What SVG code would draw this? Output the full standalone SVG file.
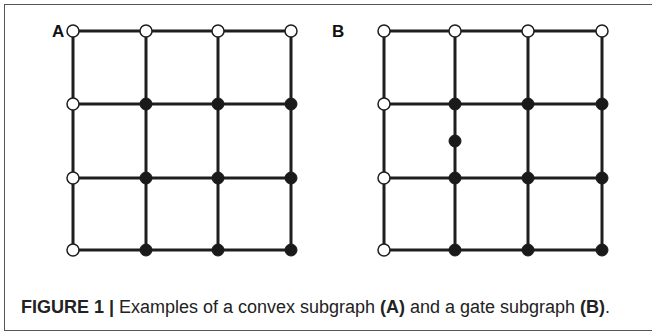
<svg xmlns="http://www.w3.org/2000/svg" width="652" height="332" viewBox="0 0 652 332">
<style>
.e{stroke:#1e1e1e;stroke-width:3;stroke-linecap:round}
.w{fill:#fff;stroke:#1e1e1e;stroke-width:1.5}
.b{fill:#1a1a1a;stroke:#1a1a1a;stroke-width:1}
.lbl{font-family:"Liberation Sans",Arial,sans-serif;font-weight:bold;font-size:17px;fill:#111}
.cap{font-family:"Liberation Sans",Arial,sans-serif;font-size:18px;fill:#222}
.bold{font-weight:bold}
</style>
<rect x="0" y="0" width="652" height="332" fill="#fff"/>
<rect x="4.5" y="4.5" width="660" height="326" fill="none" stroke="#555" stroke-width="1"/>
<text class="lbl" x="52" y="37">A</text>
<text class="lbl" x="332" y="37">B</text>
<g id="connectors">
<line class="e" x1="73" y1="31" x2="291" y2="31"/>
<line class="e" x1="73" y1="104" x2="291" y2="104"/>
<line class="e" x1="73" y1="178" x2="291" y2="178"/>
<line class="e" x1="73" y1="250" x2="291" y2="250"/>
<line class="e" x1="73" y1="31" x2="73" y2="250"/>
<line class="e" x1="146" y1="31" x2="146" y2="250"/>
<line class="e" x1="218" y1="31" x2="218" y2="250"/>
<line class="e" x1="291" y1="31" x2="291" y2="250"/>
<line class="e" x1="384" y1="31" x2="602" y2="31"/>
<line class="e" x1="384" y1="104" x2="602" y2="104"/>
<line class="e" x1="384" y1="178" x2="602" y2="178"/>
<line class="e" x1="384" y1="250" x2="602" y2="250"/>
<line class="e" x1="384" y1="31" x2="384" y2="250"/>
<line class="e" x1="455" y1="31" x2="455" y2="250"/>
<line class="e" x1="528" y1="31" x2="528" y2="250"/>
<line class="e" x1="602" y1="31" x2="602" y2="250"/>
</g>
<g id="nodesA">
<g id="a00"><circle class="w" cx="73" cy="31" r="6"/></g>
<g id="a01"><circle class="w" cx="146" cy="31" r="6"/></g>
<g id="a02"><circle class="w" cx="218" cy="31" r="6"/></g>
<g id="a03"><circle class="w" cx="291" cy="31" r="6"/></g>
<g id="a10"><circle class="w" cx="73" cy="104" r="6"/></g>
<g id="a11"><circle class="b" cx="146" cy="104" r="6"/></g>
<g id="a12"><circle class="b" cx="218" cy="104" r="6"/></g>
<g id="a13"><circle class="b" cx="291" cy="104" r="6"/></g>
<g id="a20"><circle class="w" cx="73" cy="178" r="6"/></g>
<g id="a21"><circle class="b" cx="146" cy="178" r="6"/></g>
<g id="a22"><circle class="b" cx="218" cy="178" r="6"/></g>
<g id="a23"><circle class="b" cx="291" cy="178" r="6"/></g>
<g id="a30"><circle class="w" cx="73" cy="250" r="6"/></g>
<g id="a31"><circle class="b" cx="146" cy="250" r="6"/></g>
<g id="a32"><circle class="b" cx="218" cy="250" r="6"/></g>
<g id="a33"><circle class="b" cx="291" cy="250" r="6"/></g>
</g>
<g id="nodesB">
<g id="b00"><circle class="w" cx="384" cy="31" r="6"/></g>
<g id="b01"><circle class="w" cx="455" cy="31" r="6"/></g>
<g id="b02"><circle class="w" cx="528" cy="31" r="6"/></g>
<g id="b03"><circle class="w" cx="602" cy="31" r="6"/></g>
<g id="b10"><circle class="w" cx="384" cy="104" r="6"/></g>
<g id="b11"><circle class="b" cx="455" cy="104" r="6"/></g>
<g id="b12"><circle class="b" cx="528" cy="104" r="6"/></g>
<g id="b13"><circle class="b" cx="602" cy="104" r="6"/></g>
<g id="bmid"><circle class="b" cx="455" cy="141" r="6"/></g>
<g id="b20"><circle class="w" cx="384" cy="178" r="6"/></g>
<g id="b21"><circle class="b" cx="455" cy="178" r="6"/></g>
<g id="b22"><circle class="b" cx="528" cy="178" r="6"/></g>
<g id="b23"><circle class="b" cx="602" cy="178" r="6"/></g>
<g id="b30"><circle class="w" cx="384" cy="250" r="6"/></g>
<g id="b31"><circle class="b" cx="455" cy="250" r="6"/></g>
<g id="b32"><circle class="b" cx="528" cy="250" r="6"/></g>
<g id="b33"><circle class="b" cx="602" cy="250" r="6"/></g>
</g>
<text class="cap" x="21" y="313" textLength="589" lengthAdjust="spacingAndGlyphs"><tspan class="bold">FIGURE 1 |</tspan> Examples of a convex subgraph <tspan class="bold">(A)</tspan> and a gate subgraph <tspan class="bold">(B)</tspan>.</text>
</svg>
